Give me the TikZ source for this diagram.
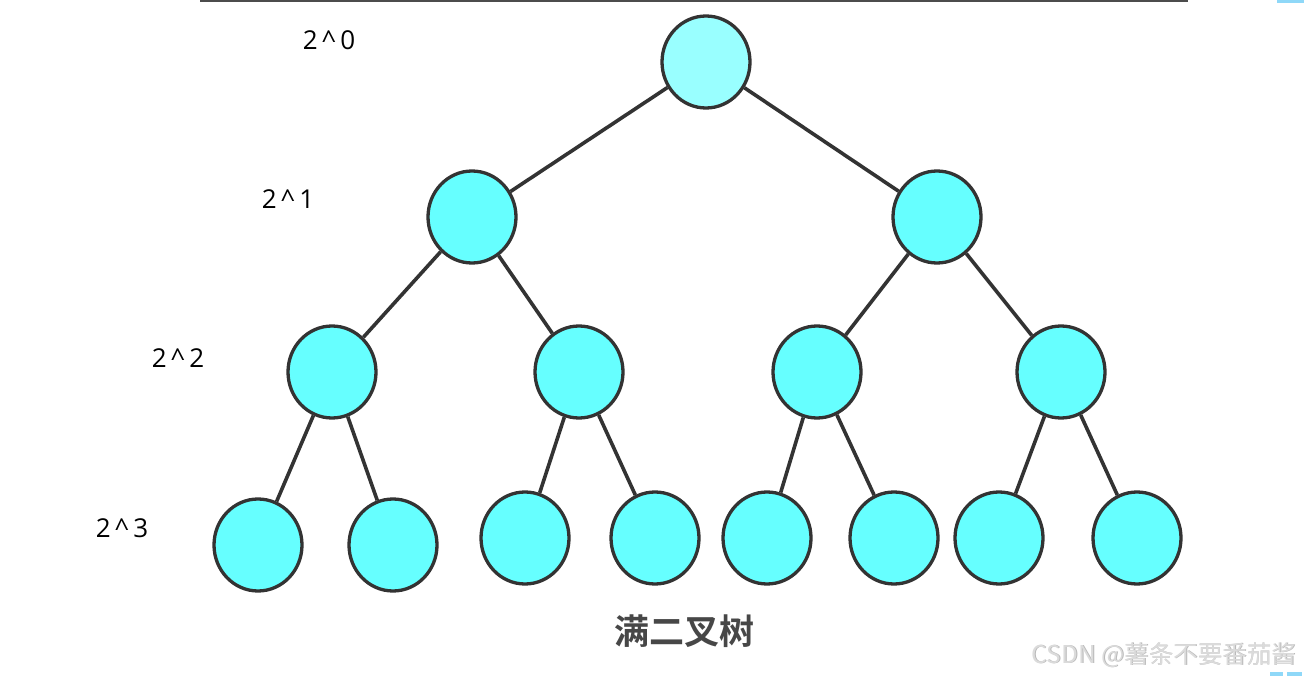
\documentclass[tikz,border=0pt]{standalone}
\usepackage{fontspec}
\setmainfont{Open Sans}
\newfontfamily\cjk{Noto Sans CJK SC}
\newfontfamily\cjkb{Noto Sans CJK SC Bold}
\usetikzlibrary{shapes.geometric}
\definecolor{rootfill}{HTML}{99FFFF}
\definecolor{nodefill}{HTML}{66FFFF}
\definecolor{edgecol}{HTML}{333333}
\definecolor{blip}{HTML}{8FD8F8}
\begin{document}
\begin{tikzpicture}[x=1pt,y=-1pt,
  tnode/.style={ellipse,draw=edgecol,line width=3.3pt,fill=nodefill,minimum width=88pt,minimum height=92pt,inner sep=0pt},
  rootnode/.style={tnode,fill=rootfill},
  edge/.style={draw=edgecol,line width=3.6pt},
  lvl/.style={font=\fontsize{26}{28}\selectfont,text=black,inner sep=0pt},
  title/.style={font=\cjkb\fontsize{35}{38}\selectfont,text=edgecol!90,inner sep=0pt},
  wm/.style={font=\cjk\fontsize{24.5}{27}\selectfont,inner sep=0pt}]
\useasboundingbox (0,0) rectangle (1306,676);
\fill[white] (0,0) rectangle (1306,676);
\draw[line width=2pt,draw=black!70] (200,1) -- (1188,1);
\fill[blip] (1277,0) rectangle (1304,3);
\fill[blip] (1270,672) rectangle (1283,676);
\fill[blip] (1287,672) rectangle (1302,676);
% nodes
\node[rootnode] (r) at (706,62) {};
\node[tnode] (a) at (472,217) {};
\node[tnode] (b) at (937,217) {};
\node[tnode] (aa) at (332,372) {};
\node[tnode] (ab) at (579,372) {};
\node[tnode] (ba) at (817,372) {};
\node[tnode] (bb) at (1061,372) {};
\node[tnode] (aaa) at (258,545) {};
\node[tnode] (aab) at (393,545) {};
\node[tnode] (aba) at (525,538) {};
\node[tnode] (abb) at (655,538) {};
\node[tnode] (baa) at (767,538) {};
\node[tnode] (bab) at (894,538) {};
\node[tnode] (bba) at (999,538) {};
\node[tnode] (bbb) at (1137,538) {};
% edges
\foreach \p/\c in {r/a,r/b,a/aa,a/ab,b/ba,b/bb,aa/aaa,aa/aab,ab/aba,ab/abb,ba/baa,ba/bab,bb/bba,bb/bbb}
  \draw[edge] (\p) -- (\c);
% labels
\node[lvl] (l0) at (329,40) {2\,\^{}\,0};
\node[lvl] (l1) at (288,199) {2\,\^{}\,1};
\node[lvl] (l2) at (178,358) {2\,\^{}\,2};
\node[lvl] (l3) at (122,528) {2\,\^{}\,3};
\node[title] (t) at (684,631) {满二叉树};
\node[wm,text=black!28] at (1164.7,655.7) {CSDN @薯条不要番茄酱};
\node[wm,text=black!14] (w) at (1164,655) {CSDN @薯条不要番茄酱};
\end{tikzpicture}
\end{document}
